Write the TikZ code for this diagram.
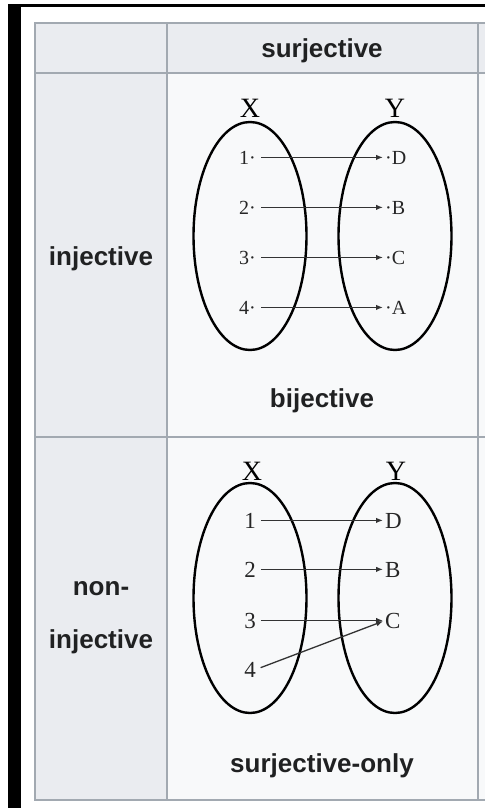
\documentclass[tikz,border=0pt]{standalone}
\usepackage{fontspec}
\setmainfont{Liberation Serif}
\newfontfamily\wikisans{Liberation Sans}
\usetikzlibrary{arrows.meta,shapes.geometric}
\definecolor{hdrgray}{HTML}{EAECF0}
\definecolor{cellgray}{HTML}{F8F9FA}
\definecolor{rulegray}{HTML}{A2A9B1}
\definecolor{wikitext}{HTML}{202122}

\begin{document}
\begin{tikzpicture}[x=1pt,y=-1pt,>=Latex,
  hdr/.style={font=\wikisans\bfseries\fontsize{26}{30}\selectfont,text=wikitext,inner sep=0pt,anchor=base},
  setoval/.style={draw=black,line width=2.4pt,ellipse,minimum width=113pt,minimum height=228pt,inner sep=0pt},
  setname/.style={font=\fontsize{28}{30}\selectfont,inner sep=0pt,anchor=base},
  elemA/.style={font=\fontsize{20}{22}\selectfont,inner sep=0pt,text=black!85},
  elemB/.style={font=\fontsize{23}{25}\selectfont,inner sep=0pt,text=black!85},
  maps/.style={-{Latex[length=7pt,width=5.5pt]},line width=1.3pt,black!80,shorten <=5pt,shorten >=2pt}]
\useasboundingbox (0,0) rectangle (485,808);
% page and table background
\fill[white] (0,0) rectangle (485,808);
\fill[black] (8,4) rectangle (485,7);
\fill[black] (8,4) rectangle (21,808);
\fill[hdrgray] (35,23) rectangle (485,73);
\fill[hdrgray] (35,73) rectangle (167,800);
\fill[cellgray] (167,73) rectangle (485,800);
\draw[rulegray,line width=1.5pt] (485,23) -- (35,23) -- (35,800) -- (485,800);
\draw[rulegray,line width=1.5pt] (35,73) -- (485,73) (35,437) -- (485,437)
  (167,23) -- (167,800) (478,23) -- (478,800);
% headers
\node[hdr] (colsurj) at (322,58) {surjective};
\node[hdr] (rowinj) at (101,265) {injective};
\node[hdr] (rownon) at (101,595) {non-};
\node[hdr] (rownoninj) at (101,648) {injective};
\node[hdr] (capbij) at (322,407) {bijective};
\node[hdr] (capsurj) at (322,772) {surjective-only};
% bijective
\node[setoval] (setXa) at (250,236) {};
\node[setoval] (setYa) at (395,236) {};
\node[setname] (nameXa) at (250,117) {X};
\node[setname] (nameYa) at (395,117) {Y};
\node[elemA,anchor=base east] (a1) at (256,164) {1·};
\node[elemA,anchor=base east] (a2) at (256,214) {2·};
\node[elemA,anchor=base east] (a3) at (256,264) {3·};
\node[elemA,anchor=base east] (a4) at (256,314) {4·};
\node[elemA,anchor=base west] (aD) at (385,164) {·D};
\node[elemA,anchor=base west] (aB) at (385,214) {·B};
\node[elemA,anchor=base west] (aC) at (385,264) {·C};
\node[elemA,anchor=base west] (aA) at (385,314) {·A};
\draw[maps] (a1.east) -- (a1.east -| aD.west);
\draw[maps] (a2.east) -- (a2.east -| aB.west);
\draw[maps] (a3.east) -- (a3.east -| aC.west);
\draw[maps] (a4.east) -- (a4.east -| aA.west);
% surjective-only
\node[setoval,minimum height=230pt] (setXb) at (250,598) {};
\node[setoval,minimum height=230pt] (setYb) at (395,598) {};
\node[setname] (nameXb) at (252,480) {X};
\node[setname] (nameYb) at (396,480) {Y};
\node[elemB,anchor=base] (b1) at (250,528) {1};
\node[elemB,anchor=base] (b2) at (250,577) {2};
\node[elemB,anchor=base] (b3) at (250,628) {3};
\node[elemB,anchor=base] (b4) at (250,677) {4};
\node[elemB,anchor=base west] (bD) at (385,528) {D};
\node[elemB,anchor=base west] (bB) at (385,577) {B};
\node[elemB,anchor=base west] (bC) at (385,628) {C};
\draw[maps] (b1.east) -- (b1.east -| bD.west);
\draw[maps] (b2.east) -- (b2.east -| bB.west);
\draw[maps] (b3.east) -- (b3.east -| bC.west);
\draw[maps] (b4.east) -- (bC.west);
\end{tikzpicture}
\end{document}
